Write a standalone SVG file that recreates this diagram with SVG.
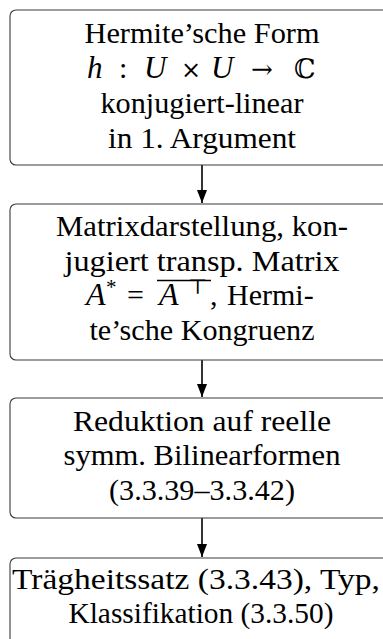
<svg xmlns="http://www.w3.org/2000/svg" width="383" height="639" viewBox="0 0 383 639">
<style>
.box{fill:#ffffff;stroke:#3a3a3a;stroke-width:1.1}
text{font-family:'Liberation Serif',serif;font-size:30px;fill:#000}
.t{text-anchor:middle}
.i{font-style:italic}
.sym{font-family:'DejaVu Serif',serif}
.edge{stroke:#000;stroke-width:1.6;fill:none}
</style>
<defs>
<marker id="ah" markerWidth="13" markerHeight="10" refX="13" refY="5" orient="auto" markerUnits="userSpaceOnUse" viewBox="0 0 13 10">
<path d="M0,0 L13,5 L0,10 Z" fill="#000"/>
</marker>
</defs>
<g id="connectors">
<line class="edge" x1="202" y1="165" x2="202" y2="203" marker-end="url(#ah)"/>
<line class="edge" x1="202" y1="360" x2="202" y2="397" marker-end="url(#ah)"/>
<line class="edge" x1="202" y1="518" x2="202" y2="557" marker-end="url(#ah)"/>
</g>
<g id="n1">
<rect class="box" x="10" y="10" width="384" height="155" rx="6"/>
<text class="t" x="202" y="43" textLength="235" lengthAdjust="spacingAndGlyphs">Hermite’sche Form</text>
<text y="78"><tspan class="i" x="87" font-size="31">h</tspan><tspan x="119">:</tspan><tspan class="i" x="144" font-size="31">U</tspan><tspan class="sym" x="181" font-size="24">×</tspan><tspan class="i" x="211" font-size="31">U</tspan><tspan class="sym" x="251" font-size="26">→</tspan><tspan class="sym" x="294" font-size="27">ℂ</tspan></text>
<text class="t" x="202" y="113" textLength="203" lengthAdjust="spacingAndGlyphs">konjugiert-linear</text>
<text class="t" x="202" y="148" textLength="188" lengthAdjust="spacingAndGlyphs">in 1. Argument</text>
</g>
<g id="n2">
<rect class="box" x="10" y="204" width="384" height="156" rx="6"/>
<text class="t" x="202" y="236" textLength="292" lengthAdjust="spacingAndGlyphs">Matrixdarstellung, kon-</text>
<text class="t" x="202" y="271" textLength="275" lengthAdjust="spacingAndGlyphs">jugiert transp. Matrix</text>
<text y="305"><tspan class="i" x="86" font-size="32">A</tspan><tspan x="106" dy="-11" font-size="21">*</tspan><tspan x="127" dy="11">=</tspan><tspan class="i" x="159" font-size="32">A</tspan><tspan class="sym" x="188" dy="-11" font-size="21">⊤</tspan><tspan x="210" dy="11">,</tspan><tspan x="227">Hermi-</tspan></text>
<line x1="157" y1="280.5" x2="211" y2="280.5" stroke="#000" stroke-width="1.3"/>
<text class="t" x="202" y="340" textLength="225" lengthAdjust="spacingAndGlyphs">te’sche Kongruenz</text>
</g>
<g id="n3">
<rect class="box" x="10" y="398" width="384" height="120" rx="6"/>
<text class="t" x="202" y="431" textLength="258" lengthAdjust="spacingAndGlyphs">Reduktion auf reelle</text>
<text class="t" x="202" y="465" textLength="277" lengthAdjust="spacingAndGlyphs">symm. Bilinearformen</text>
<text class="t" x="202" y="500" textLength="186" lengthAdjust="spacingAndGlyphs">(3.3.39–3.3.42)</text>
</g>
<g id="n4">
<rect class="box" x="10" y="558" width="384" height="100" rx="6"/>
<text class="t" x="196" y="589" textLength="368" lengthAdjust="spacingAndGlyphs">Trägheitssatz (3.3.43), Typ,</text>
<text class="t" x="201" y="623" textLength="265" lengthAdjust="spacingAndGlyphs">Klassifikation (3.3.50)</text>
</g>
</svg>
